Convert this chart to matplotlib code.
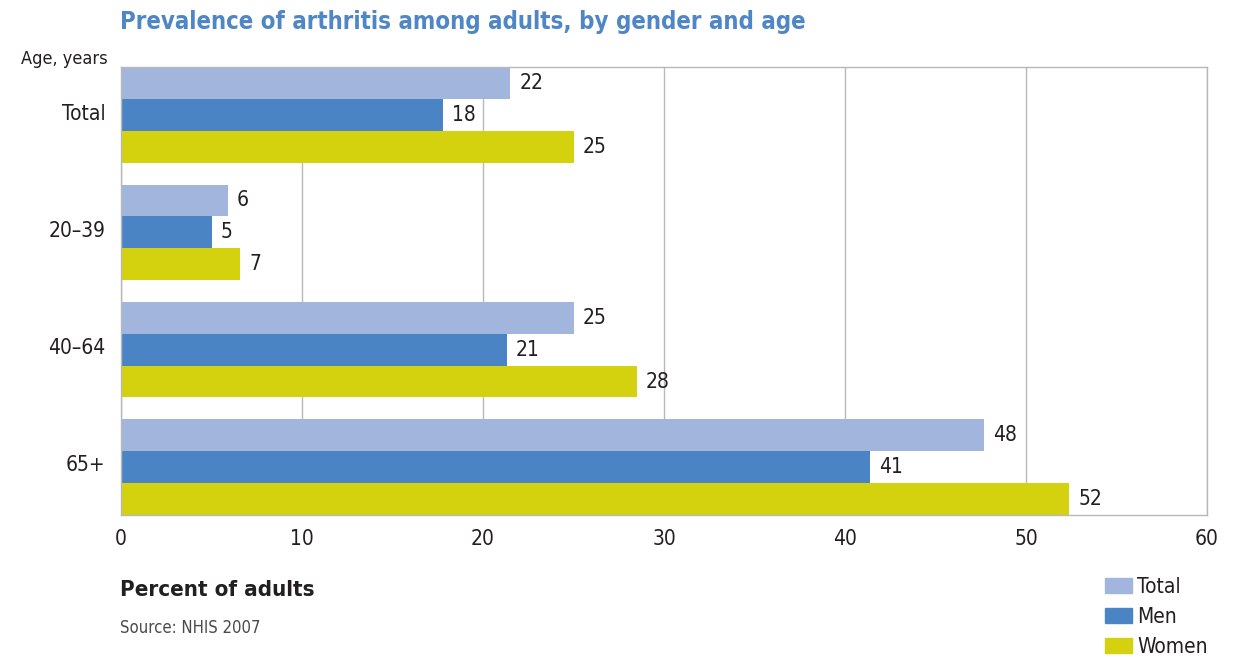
import matplotlib
matplotlib.use("Agg")
import matplotlib.pyplot as plt
import numpy as np
from matplotlib.patches import Patch

plt.rcParams['font.family'] = ['DejaVu Sans']
plt.rcParams['font.stretch'] = 'condensed'

# data (bar lengths) and the printed labels
age_groups = ['Total', '20–39', '40–64', '65+']
series_names = ['Total', 'Men', 'Women']
total_vals = [21.5, 5.9, 25.0, 47.7]
men_vals = [17.8, 5.0, 21.3, 41.4]
women_vals = [25.0, 6.6, 28.5, 52.4]
total_labels = ['22', '6', '25', '48']
men_labels = ['18', '5', '21', '41']
women_labels = ['25', '7', '28', '52']
x_ticks = [0, 10, 20, 30, 40, 50, 60]

colors = ['#a2b6dd', '#4a84c4', '#d4d20e']
text_col = '#231f20'
grid_col = '#b8b8b8'

fig = plt.figure(figsize=(12.36, 6.61), dpi=100)
ax = fig.add_axes([121 / 1236, 1 - 515 / 661, 1086 / 1236, 448 / 661])

y = np.arange(len(age_groups))
h = 0.272
series = [(total_vals, total_labels), (men_vals, men_labels), (women_vals, women_labels)]
for k, (vals, labs) in enumerate(series):
    pos = y + (k - 1) * h
    ax.barh(pos, vals, height=h, color=colors[k], zorder=2)
    for p, v, lab in zip(pos, vals, labs):
        ax.text(v + 0.5, p, lab, va='center', ha='left', fontsize=15, color=text_col, zorder=3)

ax.set_xlim(0, 60)
ax.set_ylim(3.41, -0.41)
ax.set_xticks(x_ticks)
ax.set_xticklabels([str(t) for t in x_ticks], fontsize=15, color=text_col)
ax.set_yticks(y - 0.03)
ax.set_yticklabels(age_groups, fontsize=15, color=text_col)
ax.tick_params(length=0)
ax.tick_params(axis='x', pad=10)
ax.tick_params(axis='y', pad=11)
ax.xaxis.grid(True, color=grid_col, linewidth=1, zorder=0)
ax.set_axisbelow(True)
for s in ax.spines.values():
    s.set_color(grid_col)
    s.set_linewidth(1)

fig.text(120 / 1236, 1 - 22 / 661, 'Prevalence of arthritis among adults, by gender and age',
         fontsize=17.2, fontweight='bold', color='#4f86c6', va='center', ha='left')
fig.text(108 / 1236, 1 - 59 / 661, 'Age, years', fontsize=13, color=text_col, va='center', ha='right')
fig.text(120 / 1236, 1 - 590 / 661, 'Percent of adults', fontsize=16, fontweight='bold',
         color=text_col, va='center', ha='left')
fig.text(120 / 1236, 1 - 628 / 661, 'Source: NHIS 2007', fontsize=12, color='#4a4a4a',
         va='center', ha='left')

handles = [Patch(color=c, label=n) for c, n in zip(colors, series_names)]
fig.legend(handles=handles, loc='upper left', bbox_to_anchor=(1105 / 1236, 1 - 577 / 661),
           frameon=False, fontsize=15, handlelength=1.3, handleheight=0.75,
           handletextpad=0.25, labelspacing=0.48, borderpad=0, borderaxespad=0,
           labelcolor=text_col)

fig.savefig('out.png', dpi=100)
